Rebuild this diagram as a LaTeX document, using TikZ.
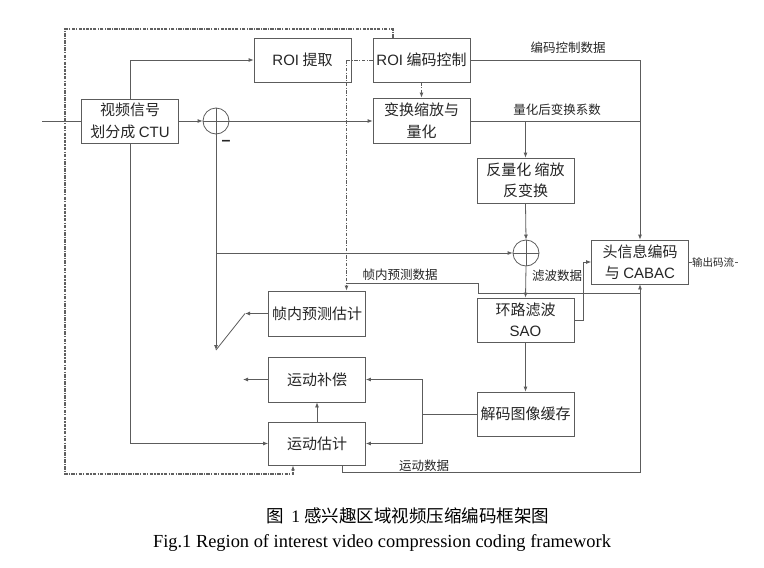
\documentclass[tikz,border=0pt]{standalone}
\usepackage{fontspec}
\setmainfont{Liberation Serif}
\newfontfamily\cjk{Noto Sans CJK SC}
\newfontfamily\lat{Liberation Sans}
\usetikzlibrary{arrows.meta}
\definecolor{ln}{gray}{0.36}
\definecolor{tx}{gray}{0.15}
\begin{document}
\begin{tikzpicture}[x=1pt,y=-1pt,
  line width=0.8pt, draw=ln,
  blk/.style={draw=ln, minimum width=97pt, minimum height=44pt, inner sep=0pt,
    align=center, text=tx, font=\cjk\fontsize{15}{21.5}\selectfont},
  sumnode/.style={circle, draw=ln, minimum size=26pt, inner sep=0pt},
  lbl/.style={text=tx, font=\cjk\fontsize{12.5}{14}\selectfont, inner sep=1pt},
  arr/.style={-{Latex[length=5pt,width=4pt]}},
  dsh/.style={dash pattern=on 3.5pt off 1.5pt on 1pt off 1.5pt, line width=0.9pt},
  border/.style={dash pattern=on 3.5pt off 1.2pt on 1.2pt off 1.2pt, draw=gray!75!black, line width=1.2pt}]
\useasboundingbox (0,0) rectangle (764,568);
\fill[white] (0,0) rectangle (764,568);

% processing blocks
\node[blk] (ctu)   at (130,121)   {视频信号\\划分成 {\lat CTU}};
\node[blk] (roi)   at (302.5,60)  {{\lat ROI} 提取};
\node[blk] (roic)  at (421.5,60)  {{\lat ROI} 编码控制};
\node[blk, minimum height=45pt] (tq) at (421.5,120.5) {变换缩放与\\量化};
\node[blk, minimum height=45pt] (iq) at (525.5,180.5) {反量化 缩放\\反变换};
\node[blk] (cabac) at (640,262)   {头信息编码\\与 {\lat CABAC}};
\node[blk] (sao)   at (525.5,320) {环路滤波\\{\lat SAO}};
\node[blk] (dpb)   at (525.5,414) {解码图像缓存};
\node[blk, minimum height=45pt] (intra) at (317,313.5) {帧内预测估计};
\node[blk, minimum height=45pt] (mc)    at (317,379.5) {运动补偿};
\node[blk, minimum height=43pt] (me)    at (317,443.5) {运动估计};

% summing junctions
\node[sumnode] (s1) at (216,121) {};
\node[sumnode] (s2) at (526,253) {};
\draw (s1.north) -- (s1.south) (s1.west) -- (s1.east);
\draw (s2.north) -- (s2.south) (s2.west) -- (s2.east);
\node[text=tx, font=\lat\bfseries\fontsize{16}{16}\selectfont, inner sep=0pt] (minus) at (226,143) {–};

% free ends and bends
\coordinate (in)  at (42,121);
\coordinate (out) at (738,262);
\coordinate (sw)  at (216,350);
\coordinate (sa)  at (245,313.5);
\coordinate (sb)  at (243,379.5);
\coordinate (dr)  at (346.5,60);
\coordinate (ia)  at (346.5,283);
\coordinate (ib)  at (478,283);
\coordinate (ic)  at (478,293);
\coordinate (ma)  at (342,465);
\coordinate (mb)  at (342,472);
\coordinate (fb)  at (422,414);
\coordinate (sr)  at (583,320);
\coordinate (bt)  at (393,29);
\coordinate (bl)  at (65,29);
\coordinate (bb)  at (65,474);
\coordinate (be)  at (293,474);

% forward path
\draw (in) -- (ctu.west);
\draw[arr] (ctu.east) -- (s1.west);
\draw[arr] (s1.east) -- (s1.east -| tq.west);
\draw[arr] (ctu.north) |- (roi.west);
\draw[arr] (ctu.south) |- (me.west);
\draw[arr] (roic.east) -| (cabac.north);
\draw (tq.east |- s1.east) -- (cabac.north |- s1.east);
\draw[arr] (iq.north |- s1.east) -- (iq.north);
\draw[arr] (iq.south) -- (s2.north);
\draw[arr] (s2.south) -- (sao.north);
\draw[arr] (sao.south) -- (dpb.north);
\draw[arr] (sao.east |- sr) -- (sr) |- (cabac.west);
\draw (cabac.east) -- (out);

% prediction loop
\draw[arr] (s1.south) -- (sw);
\draw[arr] (sw |- s2.west) -- (s2.west);
\draw[arr] (intra.west) -- (sa);
\draw (sw) -- (sa);
\draw[arr] (mc.west) -- (sb);
\draw[arr] (me.north) -- (mc.south);
\draw (dpb.west) -- (fb);
\draw[arr] (fb) |- (mc.east);
\draw[arr] (fb) |- (me.east);

% side data to the entropy coder
\draw (ia) -- (ib) -- (ic) -- (cabac.south |- ic);
\draw[arr] (ma) -- (mb) -- (cabac.south |- mb) -- (cabac.south);

% ROI control (dashed)
\draw[dsh] (roic.west) -- (dr);
\draw[dsh, arr] (dr) -- (dr |- intra.north);
\draw[dsh, arr] (roic.south) -- (tq.north);
\draw[border, arr] (bt |- roic.north) -- (bt) -- (bl) -- (bb) -- (be) -- (be |- me.south);

% connector labels
\node[lbl] (l1) at (568,48)  {编码控制数据};
\node[lbl] (l2) at (557,110) {量化后变换系数};
\node[lbl] (l3) at (557,276) {滤波数据};
\node[lbl] (l4) at (400,275) {帧内预测数据};
\node[lbl] (l5) at (424,466) {运动数据};
\node[lbl, fill=white, font=\cjk\fontsize{10.5}{12}\selectfont, inner sep=0.5pt] (l6) at (713,262) {输出码流};

% caption
\node[text=black, font=\cjk\fontsize{17.5}{20}\selectfont] (cap1) at (408,516) {图\, {\rmfamily 1} 感兴趣区域视频压缩编码框架图};
\node[text=black, font=\rmfamily\fontsize{18.4}{20}\selectfont] (cap2) at (382,543) {Fig.1 Region of interest video compression coding framework};
\end{tikzpicture}
\end{document}
